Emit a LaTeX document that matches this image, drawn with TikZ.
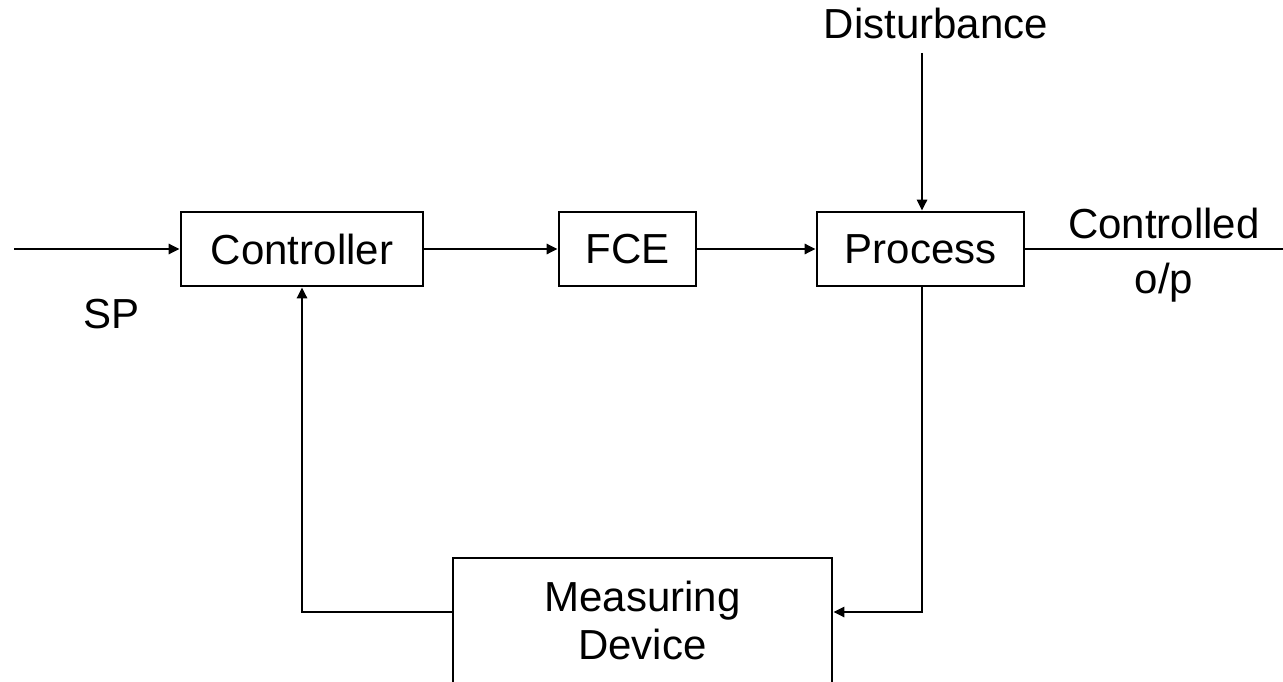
\documentclass[tikz,border=0pt]{standalone}
\usepackage{fontspec}
\setmainfont{Liberation Sans}
\usetikzlibrary{arrows.meta}
\begin{document}
\begin{tikzpicture}[x=1pt,y=-1pt,
  every node/.style={font=\fontsize{42}{55}\selectfont},
  block/.style={draw, line width=2.7pt, inner sep=0pt, align=center},
  wire/.style={line width=2.7pt},
  flow/.style={wire, -{Triangle[length=11pt,width=10pt]}}]
\clip (0,0) rectangle (1283,682);

% blocks of the loop
\node[block, minimum width=242pt, minimum height=74pt] (ctrl) at (302,249) {Controller};
\node[block, minimum width=137pt, minimum height=74pt] (fce) at (627.5,249) {FCE};
\node[block, minimum width=207pt, minimum height=74pt] (proc) at (920.5,249) {Process};
\node[block, minimum width=379pt, minimum height=125pt,
      font=\fontsize{42}{48}\selectfont] (meas) at (642.5,620.5) {Measuring\\Device};

% labels
\node[anchor=base] (sp) at (111.5,328) {SP};
\node[anchor=base] (dist) at (936,39) {Disturbance};
\node[anchor=base, align=center] (out) at (1164,293) {Controlled\\o/p};

% free ends and corners
\coordinate (in) at (14,249);
\coordinate (outend) at (1283,249);
\coordinate (dtop) at (922,53);
\coordinate (tap) at (922,612);
\coordinate (fb) at (302,612);

% connectors
\draw[flow] (in) -- (ctrl.west);
\draw[flow] (ctrl.east) -- (fce.west);
\draw[flow] (fce.east) -- (proc.west);
\draw[wire] (proc.east) -- (outend);
\draw[flow] (dtop) -- (dtop |- proc.north);
\draw[flow] (tap |- proc.south) -- (tap) -- (meas.east |- tap);
\draw[flow] (meas.west |- fb) -- (fb) -- (ctrl.south);
\end{tikzpicture}
\end{document}
